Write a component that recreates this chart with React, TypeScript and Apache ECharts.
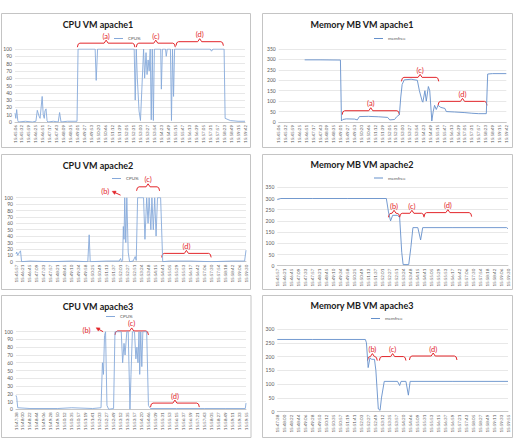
import React, { useEffect, useRef } from "react";
import * as echarts from "echarts";

// ---- tick labels (time stamps) ----
const timesApache1 = ["15:45:06","15:45:32","15:45:59","15:46:25","15:46:51","15:47:17","15:47:43","15:48:09","15:48:35","15:49:01","15:49:27","15:49:53","15:50:20","15:50:46","15:51:12","15:51:39","15:52:05","15:52:31","15:53:00","15:53:27","15:53:54","15:54:23","15:54:49","15:55:15","15:55:47","15:56:13","15:56:39","15:57:05","15:57:31","15:57:57","15:58:23","15:58:49","15:59:15","15:59:42"];
const timesApache2 = ["15:45:57","15:46:21","15:46:45","15:47:09","15:47:33","15:47:57","15:48:21","15:48:45","15:49:10","15:49:34","15:49:58","15:50:25","15:50:49","15:51:13","15:51:37","15:52:01","15:52:27","15:52:51","15:53:24","15:53:48","15:54:15","15:54:41","15:55:05","15:55:29","15:55:53","15:56:17","15:56:42","15:57:06","15:57:30","15:57:54","15:58:18","15:58:42","15:59:06","15:59:30"];
const timesApache3 = ["15:47:38","15:48:00","15:48:22","15:48:44","15:49:06","15:49:28","15:49:50","15:50:12","15:50:35","15:50:57","15:51:19","15:51:41","15:52:03","15:52:27","15:52:49","15:53:12","15:53:35","15:53:57","15:54:20","15:54:46","15:55:09","15:55:31","15:55:53","15:56:15","15:56:37","15:56:59","15:57:21","15:57:43","15:58:05","15:58:27","15:58:49","15:59:11","15:59:33","15:59:55"];

// ---- series values: [position along time labels, value] ----
const cpuApache1 = [[0,12],[0.12,5],[0.24,17],[0.4,2],[0.5,0],[1.5,1],[2.5,0],[3.0,1],[3.2,16],[3.45,8],[3.6,5],[3.9,35],[4.05,10],[4.2,5],[4.3,15],[4.45,18],[4.6,2],[4.7,0],[5.5,1],[6.2,0],[6.4,13],[6.6,0],[7.5,1],[8.9,1],[9.05,100],[11.5,100],[11.65,57],[11.85,100],[14,100],[17.1,100],[17.25,30],[17.4,100],[17.55,60],[17.8,15],[18.0,2],[18.2,45],[18.45,100],[18.6,60],[18.8,95],[18.95,65],[19.1,85],[19.25,70],[19.4,100],[19.55,3],[19.7,100],[19.85,2],[20.0,100],[20.9,100],[21.0,45],[21.15,100],[21.6,100],[21.7,90],[21.85,100],[22.3,100],[22.45,2],[22.6,100],[22.75,35],[22.9,100],[25,100],[28,100],[28.2,97],[28.4,100],[30.0,100],[30.15,5],[30.9,2],[32,1],[33,1]];
const memApache1 = [[3.77,298],[6,298],[8.95,297],[9.1,5],[9.3,12],[9.8,15],[11.0,14],[11.4,10],[11.7,26],[13,27],[14.5,25],[15.8,22],[16.1,10],[16.8,12],[17.1,25],[17.5,35],[17.7,120],[17.9,180],[18.2,202],[19.2,205],[20.1,200],[20.4,150],[20.8,100],[20.9,95],[21.2,150],[21.4,100],[21.7,170],[21.9,150],[22.2,5],[22.4,50],[22.6,80],[22.85,60],[23.1,80],[23.5,70],[24.1,65],[24.3,50],[25.5,48],[27,45],[28,42],[29,40],[30.1,40],[30.3,230],[31,232],[33,232]];
const cpuApache2 = [[0,12],[0.1,15],[0.25,10],[0.45,14],[0.65,17],[0.8,0],[2,1],[5,0],[8,1],[10.3,0],[10.5,42],[10.65,0],[13,1],[14.8,1],[15.0,5],[15.15,0],[15.3,2],[15.4,55],[15.5,35],[15.6,100],[15.75,30],[15.9,100],[16.1,15],[16.3,0],[16.8,1],[17.1,8],[17.25,2],[17.45,100],[18.3,100],[18.5,35],[18.75,100],[18.95,60],[19.1,100],[19.35,50],[19.5,100],[19.7,50],[19.9,100],[20.1,40],[20.3,100],[20.75,100],[21.05,0],[22,1],[25,1],[28,0],[31,1],[32.8,1],[33,18]];
const memApache2 = [[0,295],[0.5,300],[5,300],[10,300],[15.6,300],[15.9,240],[16.2,200],[16.5,225],[17.2,225],[17.5,215],[17.8,60],[18.0,5],[18.8,5],[19.1,80],[19.4,170],[20.1,170],[20.5,115],[20.8,170],[25,170],[30,170],[32.8,170],[33,165]];
const cpuApache3 = [[0,18],[0.1,15],[0.25,2],[2,1],[6,1],[8,2],[11,1],[12.2,2],[12.4,60],[12.55,45],[12.7,95],[12.85,100],[13.05,5],[13.3,0],[14.0,1],[14.2,100],[15.1,100],[15.3,60],[15.5,85],[15.65,70],[15.9,100],[16.1,100],[16.35,0],[16.5,45],[16.7,100],[17.0,100],[17.2,65],[17.35,80],[17.5,60],[17.65,100],[17.75,45],[17.9,100],[18.05,55],[18.2,100],[18.75,100],[19.0,5],[19.3,1],[23,1],[27,1],[30,1],[32.9,1],[33,8]];
const memApache3 = [[0,262],[5,262],[12.6,262],[12.75,250],[13.0,160],[13.25,195],[13.5,190],[13.9,190],[14.1,150],[14.45,10],[14.7,5],[14.9,50],[15.3,110],[17.2,110],[17.5,95],[17.7,110],[18.4,110],[18.75,60],[19.0,110],[25,110],[33,110]];

const titles = ["CPU VM apache1","Memory MB VM apache1","CPU VM apache2","Memory MB VM apache2","CPU VM apache3","Memory MB VM apache3"];
const seriesNames = ["CPU%","memfree","CPU%","memfree","CPU%","memfree"];
const seriesData = [cpuApache1, memApache1, cpuApache2, memApache2, cpuApache3, memApache3];
const panelTimes = [timesApache1, timesApache1, timesApache2, timesApache2, timesApache3, timesApache3];
const yMax = [100, 350, 100, 350, 100, 300];
const yStep = [10, 50, 10, 50, 10, 50];

// annotation brackets, in data units of each panel
const brackets = [
  { panel: 0, text: "(a)", from: 8.95, to: 17.2, at: 108 },
  { panel: 0, text: "(c)", from: 17.4, to: 23.0, at: 108 },
  { panel: 0, text: "(d)", from: 23.1, to: 29.9, at: 110 },
  { panel: 1, text: "(a)", from: 9.2, to: 17.5, at: 54 },
  { panel: 1, text: "(c)", from: 17.8, to: 23.2, at: 214 },
  { panel: 1, text: "(d)", from: 23.1, to: 30.2, at: 99 },
  { panel: 2, text: "(c)", from: 17.3, to: 20.6, at: 117 },
  { panel: 2, text: "(d)", from: 20.9, to: 28.0, at: 13 },
  { panel: 3, text: "(b)", from: 15.9, to: 17.5, at: 234 },
  { panel: 3, text: "(c)", from: 17.5, to: 21.0, at: 234 },
  { panel: 3, text: "(d)", from: 21.0, to: 27.8, at: 237 },
  { panel: 4, text: "(c)", from: 14.2, to: 19.0, at: 101 },
  { panel: 4, text: "(d)", from: 19.3, to: 26.3, at: 8 },
  { panel: 5, text: "(b)", from: 12.9, to: 14.3, at: 200 },
  { panel: 5, text: "(c)", from: 14.6, to: 18.4, at: 200 },
  { panel: 5, text: "(d)", from: 18.9, to: 25.7, at: 202 },
];
const arrows = [
  { panel: 2, text: "(b)", label: [12.8, 109], head: [13.8, 110], tail: [15.0, 104] },
  { panel: 4, text: "(b)", label: [10.1, 102], head: [11.5, 105], tail: [12.5, 100] },
];

// ---- layout (pixels) ----
const gridBoxes = [
  { left: 15, top: 49, width: 230, height: 73 },
  { left: 278.7, top: 49, width: 227.6, height: 73 },
  { left: 16, top: 197.7, width: 230, height: 64 },
  { left: 277.3, top: 187.3, width: 230.7, height: 78.4 },
  { left: 16, top: 331.7, width: 230, height: 77.6 },
  { left: 277.3, top: 329, width: 230.7, height: 82.7 },
];
const frames = [
  { x: 1, y: 13, w: 249, h: 134 },
  { x: 262, y: 13, w: 250, h: 134 },
  { x: 1, y: 154, w: 249, h: 135 },
  { x: 262, y: 154, w: 250, h: 135 },
  { x: 1, y: 295, w: 249.5, h: 142 },
  { x: 262, y: 295, w: 250, h: 142 },
];
const titlePos = [[98, 24], [362, 24], [98, 165], [362, 164.5], [98, 306], [362, 305]];
const legendPos = [[114, 36], [374, 36], [112, 176], [374, 175.5], [106, 314], [371, 316]];

const RED = "#e3262b";
const FONT = "Lato, 'Liberation Sans', sans-serif";

export default function App() {
  const ref = useRef<HTMLDivElement>(null);
  useEffect(() => {
    if (!ref.current) return;
    const chart = echarts.init(ref.current, undefined, { renderer: "svg" });
    const option: any = {
      animation: false,
      backgroundColor: "#ffffff",
      textStyle: { fontFamily: FONT },
      grid: gridBoxes.map((g) => ({ ...g, containLabel: false })),
      xAxis: gridBoxes.map((_, i) => ({
        gridIndex: i,
        type: "value",
        min: 0,
        max: 33,
        interval: 1,
        axisLine: { show: true, lineStyle: { color: "#bfbfbf", width: 0.8 } },
        axisTick: { show: false },
        splitLine: { show: false },
        axisLabel: {
          rotate: 90,
          fontSize: 4.5,
          color: "#595959",
          margin: 3,
          hideOverlap: false,
          showMinLabel: true,
          showMaxLabel: true,
          fontFamily: FONT,
          formatter: (v: number) => panelTimes[i][Math.round(v)] ?? "",
        },
      })),
      yAxis: gridBoxes.map((_, i) => ({
        gridIndex: i,
        type: "value",
        min: 0,
        max: yMax[i],
        interval: yStep[i],
        axisLine: { show: false },
        axisTick: { show: false },
        splitLine: { lineStyle: { color: "#d9d9d9", width: 0.6 } },
        axisLabel: { fontSize: 5, color: "#595959", margin: 3, fontFamily: FONT },
      })),
      legend: gridBoxes.map((_, i) => ({
        data: [{ name: seriesNames[i], icon: "rect" }],
        left: legendPos[i][0],
        top: legendPos[i][1],
        padding: 0,
        itemWidth: 9,
        itemHeight: 1,
        itemGap: 0,
        selectedMode: false,
        textStyle: { fontSize: 4.5, color: "#595959", fontFamily: FONT },
      })),
      series: seriesData.map((d, i) => ({
        type: "line",
        name: seriesNames[i],
        xAxisIndex: i,
        yAxisIndex: i,
        data: d,
        symbol: "none",
        lineStyle: { color: i % 2 === 0 ? "#86a9da" : "#6590cb", width: 0.9 },
        itemStyle: { color: i % 2 === 0 ? "#86a9da" : "#6590cb" },
      })),
    };
    chart.setOption(option);

    const px = (panel: number, p: number[]) =>
      chart.convertToPixel({ seriesIndex: panel }, p) as number[];

    const graphics: any[] = [];
    frames.forEach((f) => {
      graphics.push({
        type: "rect",
        silent: true,
        z: -10,
        shape: { x: f.x + 0.5, y: f.y + 0.5, width: f.w, height: f.h },
        style: { fill: "none", stroke: "#c4c4c4", lineWidth: 1 },
      });
    });
    titles.forEach((t, i) => {
      graphics.push({
        type: "text",
        x: titlePos[i][0],
        y: titlePos[i][1],
        style: {
          text: t,
          fill: "#1a1a1a",
          fontSize: 9,
          fontWeight: "bold",
          fontFamily: FONT,
          align: "center",
          verticalAlign: "middle",
          textAlign: "center",
          textVerticalAlign: "middle",
        },
      });
    });
    brackets.forEach((b) => {
      const p1 = px(b.panel, [b.from, b.at]);
      const p2 = px(b.panel, [b.to, b.at]);
      const y = p1[1];
      const x1 = p1[0];
      const x2 = p2[0];
      const xm = (x1 + x2) / 2;
      graphics.push({
        type: "polyline",
        shape: {
          points: [
            [x1, y + 4],
            [x1 + 0.8, y + 1],
            [x1 + 2.5, y],
            [xm - 2, y],
            [xm, y - 3],
            [xm + 2, y],
            [x2 - 2.5, y],
            [x2 - 0.8, y + 1],
            [x2, y + 4],
          ],
        },
        style: { stroke: RED, lineWidth: 1, fill: "none" },
      });
      graphics.push({
        type: "text",
        x: xm,
        y: y - 3,
        style: {
          text: b.text,
          fill: RED,
          fontSize: 7.5,
          fontFamily: FONT,
          align: "center",
          verticalAlign: "bottom",
          textAlign: "center",
          textVerticalAlign: "bottom",
        },
      });
    });
    arrows.forEach((a) => {
      const l = px(a.panel, a.label);
      const h = px(a.panel, a.head);
      const t = px(a.panel, a.tail);
      const dx = h[0] - t[0];
      const dy = h[1] - t[1];
      const len = Math.sqrt(dx * dx + dy * dy) || 1;
      const ux = dx / len;
      const uy = dy / len;
      graphics.push({
        type: "line",
        shape: { x1: t[0], y1: t[1], x2: h[0] - ux * 2, y2: h[1] - uy * 2 },
        style: { stroke: RED, lineWidth: 1 },
      });
      graphics.push({
        type: "polygon",
        shape: {
          points: [
            [h[0], h[1]],
            [h[0] - ux * 3.5 - uy * 1.8, h[1] - uy * 3.5 + ux * 1.8],
            [h[0] - ux * 3.5 + uy * 1.8, h[1] - uy * 3.5 - ux * 1.8],
          ],
        },
        style: { fill: RED, stroke: RED, lineWidth: 0.5 },
      });
      graphics.push({
        type: "text",
        x: l[0],
        y: l[1],
        style: {
          text: a.text,
          fill: RED,
          fontSize: 7.5,
          fontFamily: FONT,
          align: "center",
          verticalAlign: "middle",
          textAlign: "center",
          textVerticalAlign: "middle",
        },
      });
    });
    chart.setOption({ graphic: graphics });

    return () => chart.dispose();
  }, []);
  return (
    <div
      ref={ref}
      style={{ position: "absolute", left: 0, top: 0, width: 517, height: 439, background: "#fff" }}
    />
  );
}
